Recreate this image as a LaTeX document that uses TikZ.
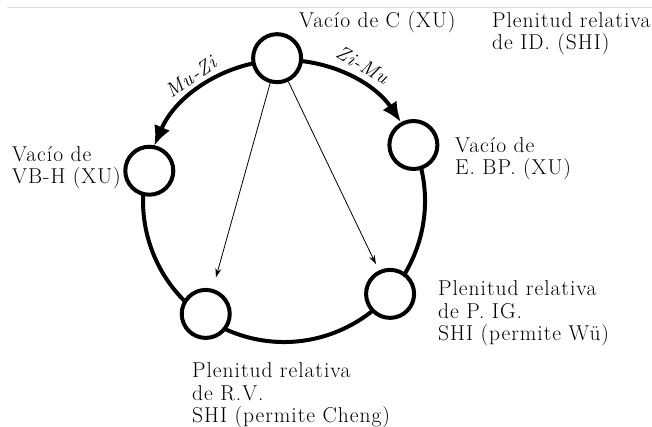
\documentclass[tikz,border=0pt]{standalone}
\usepackage{fontspec}
\newfontfamily\lblfont{Latin Modern Roman}[LetterSpace=4.5]
\usetikzlibrary{arrows.meta,calc}
\begin{document}
\begin{tikzpicture}[x=1pt,y=1pt,
  state/.style={circle,draw,line width=4pt,fill=white,minimum size=48pt,inner sep=0pt},
  ring/.style={line width=4pt},
  bigtip/.style={line width=4pt,-{Latex[length=20pt,width=17pt]}},
  thinarrow/.style={line width=0.8pt,-{Stealth[length=9pt,width=6pt]}},
  lbl/.style={font=\lblfont\fontsize{21.5}{22.5}\selectfont,align=left,anchor=base west,inner sep=0pt},
  arclbl/.style={font=\lblfont\itshape\fontsize{20}{22}\selectfont,inner sep=0pt}]
\useasboundingbox (0,0) rectangle (652,427);
\draw[black!12,line width=0.8pt] (7,420) -- (652,420);
\coordinate (C) at (284,226);
\def\R{141}
% ring
\draw[ring] ($(C)+(23.4:\R)$) arc[start angle=23.4,end angle=-192.4,radius=\R];
\draw[bigtip] ($(C)+(92.8:\R)$) arc[start angle=92.8,end angle=157,radius=\R];
\draw[bigtip] ($(C)+(92.8:\R)$) arc[start angle=92.8,end angle=34,radius=\R];
% states
\node[state] (top) at ($(C)+(92.8:\R)+(0,2)$) {};
\node[state] (r)   at ($(C)+(23.4:\R)$) {};
\node[state] (l)   at ($(C)+(167.6:\R)+(3,0)$) {};
\node[state] (bl)  at ($(C)+(235.3:\R)+(2,3)$) {};
\node[state] (br)  at ($(C)+(-41.2:\R)$) {};
% thin arrows
\draw[thinarrow,shorten >=12pt] (top) -- (bl);
\draw[thinarrow,shorten >=7pt] (top) -- (br);
% arc labels
\node[arclbl,rotate=35] (muzi) at ($(C)+(127:155)$) {Mu-Zi};
\node[arclbl,rotate=-30] (zimu) at ($(C)+(60:157)$) {Zi-Mu};
% labels (anchored at baseline of last line)
\node[lbl] (tC) at (299,399) {Vacío de C (XU)};
\node[lbl] (tID) at (492,377) {Plenitud relativa\\de ID. (SHI)};
\node[lbl] (tE) at (455,252) {Vacío de\\E. BP. (XU)};
\node[lbl] (tV) at (12,243) {Vacío de\\VB-H (XU)};
\node[lbl] (tP) at (438,86) {Plenitud relativa\\de P. IG.\\SHI (permite Wü)};
\node[lbl] (tR) at (192,4) {Plenitud relativa\\de R.V.\\SHI (permite Cheng)};
\end{tikzpicture}
\end{document}
